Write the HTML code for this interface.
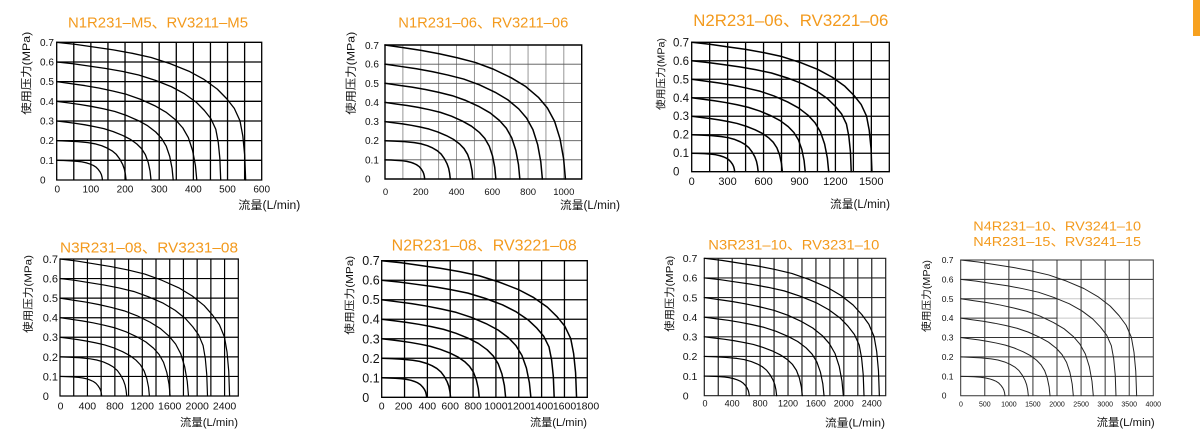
<!DOCTYPE html>
<html>
<head>
<meta charset="utf-8">
<style>
html,body{margin:0;padding:0;background:#fff;}
svg{display:block;}
path,polyline{vector-effect:non-scaling-stroke;fill:none;}
text{font-family:"Liberation Sans","Noto Sans CJK SC",sans-serif;fill:#111;}
.t{fill:#F39A1D;}
.c{stroke:#000;stroke-linejoin:round;stroke-linecap:round;}
</style>
</head>
<body>
<svg width="1200" height="437" viewBox="0 0 1200 437" xmlns="http://www.w3.org/2000/svg">
<rect x="0" y="0" width="1200" height="437" fill="#fff"/>
<rect x="1193" y="0" width="7" height="36" fill="#F7A11F"/>

<!-- ============ CHART 1 ============ -->
<text class="t" x="68" y="27.3" font-size="15" textLength="180" lengthAdjust="spacingAndGlyphs">N1R231–M5、RV3211–M5</text>
<text transform="translate(27,73.3) rotate(-90)" text-anchor="middle" dominant-baseline="central" font-size="11" textLength="83" lengthAdjust="spacingAndGlyphs">使用压力(MPa)</text>
<g font-size="10">
<text x="40" y="45.8">0.7</text><text x="40" y="65.5">0.6</text><text x="40" y="85.1">0.5</text><text x="40" y="104.8">0.4</text><text x="40" y="124.5">0.3</text><text x="40" y="144.2">0.2</text><text x="40" y="163.8">0.1</text><text x="40" y="183.5">0</text>
</g>
<g font-size="10" text-anchor="middle">
<text x="57.3" y="192.5">0</text><text x="90.9" y="192.5">100</text><text x="125" y="192.5">200</text><text x="159.2" y="192.5">300</text><text x="193.4" y="192.5">400</text><text x="227.5" y="192.5">500</text><text x="261.7" y="192.5">600</text>
</g>
<text x="238.3" y="209" font-size="11.5" textLength="62" lengthAdjust="spacingAndGlyphs">流量(L/min)</text>
<g transform="translate(56.7,180) scale(0.34167,19.671)">
<path stroke="#000" stroke-width="1.3" stroke-linecap="square" d="M0 0V-7M50 0V-7M100 0V-7M150 0V-7M200 0V-7M250 0V-7M300 0V-7M350 0V-7M400 0V-7M450 0V-7M500 0V-7M550 0V-7M600 0V-7M0 0H600M0 -1H600M0 -2H600M0 -3H600M0 -4H600M0 -5H600M0 -6H600M0 -7H600"/>
<g class="c" stroke-width="1.3">
<polyline transform="translate(0,-1) scale(134,1)" points="0,0 .15,.01 .3,.025 .45,.05 .55,.08 .65,.13 .73,.19 .8,.26 .86,.35 .91,.47 .95,.6 .975,.72 .99,.85 1,1"/>
<polyline transform="translate(0,-2) scale(203,2)" points="0,0 .15,.01 .3,.025 .45,.05 .55,.08 .65,.13 .73,.19 .8,.26 .86,.35 .91,.47 .95,.6 .975,.72 .99,.85 1,1"/>
<polyline transform="translate(0,-3) scale(276,3)" points="0,0 .1,.02 .2,.04 .3,.065 .4,.095 .5,.13 .6,.18 .7,.245 .78,.31 .85,.39 .9,.47 .94,.57 .97,.7 .99,.85 1,1"/>
<polyline transform="translate(0,-4) scale(341,4)" points="0,0 .1,.02 .2,.04 .3,.065 .4,.095 .5,.13 .6,.18 .7,.245 .78,.31 .85,.39 .9,.47 .94,.57 .97,.7 .99,.85 1,1"/>
<polyline transform="translate(0,-5) scale(410,5)" points="0,0 .1,.02 .2,.04 .3,.065 .4,.095 .5,.13 .6,.18 .7,.245 .78,.31 .85,.39 .9,.47 .94,.57 .97,.7 .99,.85 1,1"/>
<polyline transform="translate(0,-6) scale(480,6)" points="0,0 .1,.015 .2,.035 .3,.055 .4,.08 .5,.11 .6,.155 .7,.21 .78,.27 .85,.34 .9,.41 .94,.48 .97,.57 .985,.68 .995,.82 1,1"/>
<polyline transform="translate(0,-7) scale(553,7)" points="0,0 .1,.015 .2,.035 .3,.055 .4,.08 .5,.11 .6,.155 .7,.21 .78,.27 .85,.34 .9,.41 .94,.48 .97,.57 .985,.68 .995,.82 1,1"/>
</g>
</g>

<!-- ============ CHART 2 ============ -->
<text class="t" x="398.3" y="27.3" font-size="15" textLength="170" lengthAdjust="spacingAndGlyphs">N1R231–06、RV3211–06</text>
<text transform="translate(351.7,73.3) rotate(-90)" text-anchor="middle" dominant-baseline="central" font-size="11" textLength="83" lengthAdjust="spacingAndGlyphs">使用压力(MPa)</text>
<g font-size="10">
<text x="365" y="49">0.7</text><text x="365" y="67.6">0.6</text><text x="365" y="86.8">0.5</text><text x="365" y="105.9">0.4</text><text x="365" y="125.1">0.3</text><text x="365" y="144.2">0.2</text><text x="365" y="163.4">0.1</text><text x="365" y="182.5">0</text>
</g>
<g font-size="9.5" text-anchor="middle">
<text x="385.5" y="195">0</text><text x="420.8" y="195">200</text><text x="456.5" y="195">400</text><text x="492.3" y="195">600</text><text x="528.1" y="195">800</text><text x="563.8" y="195">1000</text>
</g>
<text x="560" y="209" font-size="11.5" textLength="60" lengthAdjust="spacingAndGlyphs">流量(L/min)</text>
<g transform="translate(385,179) scale(0.17882,19.143)">
<path stroke="#8c8c8c" stroke-width="0.9" d="M100 0V-7M200 0V-7M300 0V-7M400 0V-7M500 0V-7M600 0V-7M700 0V-7M800 0V-7M900 0V-7M1000 0V-7"/>
<path stroke="#555" stroke-width="0.9" d="M0 -1H1100M0 -2H1100M0 -3H1100M0 -4H1100M0 -5H1100M0 -6H1100"/>
<path stroke="#000" stroke-width="1.4" stroke-linecap="square" d="M0 0H1100V-7H0Z"/>
<g class="c" stroke-width="1.5">
<polyline transform="translate(0,-1) scale(222,1)" points="0,0 .15,.01 .3,.025 .45,.05 .55,.08 .65,.13 .73,.19 .8,.26 .86,.35 .91,.47 .95,.6 .975,.72 .99,.85 1,1"/>
<polyline transform="translate(0,-2) scale(365,2)" points="0,0 .15,.01 .3,.025 .45,.05 .55,.08 .65,.13 .73,.19 .8,.26 .86,.35 .91,.47 .95,.6 .975,.72 .99,.85 1,1"/>
<polyline transform="translate(0,-3) scale(491,3)" points="0,0 .1,.02 .2,.04 .3,.065 .4,.095 .5,.13 .6,.18 .7,.245 .78,.31 .85,.39 .9,.47 .94,.57 .97,.7 .99,.85 1,1"/>
<polyline transform="translate(0,-4) scale(620,4)" points="0,0 .1,.02 .2,.04 .3,.065 .4,.095 .5,.13 .6,.18 .7,.245 .78,.31 .85,.39 .9,.47 .94,.57 .97,.7 .99,.85 1,1"/>
<polyline transform="translate(0,-5) scale(754,5)" points="0,0 .1,.02 .2,.04 .3,.065 .4,.095 .5,.13 .6,.18 .7,.245 .78,.31 .85,.39 .9,.47 .94,.57 .97,.7 .99,.85 1,1"/>
<polyline transform="translate(0,-6) scale(880,6)" points="0,0 .1,.02 .2,.04 .3,.065 .4,.095 .5,.13 .6,.18 .7,.245 .78,.31 .85,.39 .9,.47 .94,.57 .97,.7 .99,.85 1,1"/>
<polyline transform="translate(0,-7) scale(1009,7)" points="0,0 .1,.02 .2,.04 .3,.065 .4,.095 .5,.13 .6,.18 .7,.245 .78,.31 .85,.39 .9,.47 .94,.57 .97,.7 .99,.85 1,1"/>
</g>
</g>

<!-- ============ CHART 3 ============ -->
<text class="t" x="693.3" y="26" font-size="16.5" textLength="195" lengthAdjust="spacingAndGlyphs">N2R231–06、RV3221–06</text>
<text transform="translate(662,74) rotate(-90)" text-anchor="middle" dominant-baseline="central" font-size="10" textLength="72" lengthAdjust="spacingAndGlyphs">使用压力(MPa)</text>
<g font-size="11.5">
<text x="673" y="46.3">0.7</text><text x="673" y="64.8">0.6</text><text x="673" y="83.3">0.5</text><text x="673" y="101.8">0.4</text><text x="673" y="120.2">0.3</text><text x="673" y="138.7">0.2</text><text x="673" y="157.2">0.1</text><text x="673" y="175.4">0</text>
</g>
<g font-size="11" text-anchor="middle">
<text x="691.7" y="185">0</text><text x="727.6" y="185">300</text><text x="763.6" y="185">600</text><text x="799.5" y="185">900</text><text x="835.4" y="185">1200</text><text x="871.3" y="185">1500</text>
</g>
<text x="830" y="208" font-size="11.5" textLength="60" lengthAdjust="spacingAndGlyphs">流量(L/min)</text>
<g transform="translate(691.7,171.7) scale(0.11976,18.486)">
<path stroke="#000" stroke-width="1.3" stroke-linecap="square" d="M0 0V-7M150 0V-7M300 0V-7M450 0V-7M600 0V-7M750 0V-7M900 0V-7M1050 0V-7M1200 0V-7M1350 0V-7M1500 0V-7M1650 0V-7M0 0H1650M0 -1H1650M0 -2H1650M0 -3H1650M0 -4H1650M0 -5H1650M0 -6H1650M0 -7H1650"/>
<g class="c" stroke-width="1.5">
<polyline transform="translate(0,-1) scale(359,1)" points="0,0 .15,.01 .3,.025 .45,.05 .55,.08 .65,.13 .73,.19 .8,.26 .86,.35 .91,.47 .95,.6 .975,.72 .99,.85 1,1"/>
<polyline transform="translate(0,-2) scale(555,2)" points="0,0 .15,.01 .3,.025 .45,.05 .55,.08 .65,.13 .73,.19 .8,.26 .86,.35 .91,.47 .95,.6 .975,.72 .99,.85 1,1"/>
<polyline transform="translate(0,-3) scale(757,3)" points="0,0 .1,.02 .2,.04 .3,.065 .4,.095 .5,.13 .6,.18 .7,.245 .78,.31 .85,.39 .9,.47 .94,.57 .97,.7 .99,.85 1,1"/>
<polyline transform="translate(0,-4) scale(948,4)" points="0,0 .1,.02 .2,.04 .3,.065 .4,.095 .5,.13 .6,.18 .7,.245 .78,.31 .85,.39 .9,.47 .94,.57 .97,.7 .99,.85 1,1"/>
<polyline transform="translate(0,-5) scale(1144,5)" points="0,0 .1,.02 .2,.04 .3,.065 .4,.095 .5,.13 .6,.18 .7,.245 .78,.31 .85,.39 .9,.47 .94,.57 .97,.7 .99,.85 1,1"/>
<polyline transform="translate(0,-6) scale(1332,6)" points="0,0 .1,.015 .2,.035 .3,.055 .4,.08 .5,.11 .6,.155 .7,.21 .78,.27 .85,.34 .9,.41 .94,.48 .97,.57 .985,.68 .995,.82 1,1"/>
<polyline transform="translate(0,-7) scale(1505,7)" points="0,0 .1,.015 .2,.035 .3,.055 .4,.08 .5,.11 .6,.155 .7,.21 .78,.27 .85,.34 .9,.41 .94,.48 .97,.57 .985,.68 .995,.82 1,1"/>
</g>
</g>

<!-- ============ CHART 4 ============ -->
<text class="t" x="60" y="252.3" font-size="15" textLength="178" lengthAdjust="spacingAndGlyphs">N3R231–08、RV3231–08</text>
<text transform="translate(28.3,294) rotate(-90)" text-anchor="middle" dominant-baseline="central" font-size="10.5" textLength="78" lengthAdjust="spacingAndGlyphs">使用压力(MPa)</text>
<g font-size="11">
<text x="42.7" y="262.9">0.7</text><text x="42.7" y="282.5">0.6</text><text x="42.7" y="302">0.5</text><text x="42.7" y="321.6">0.4</text><text x="42.7" y="341.2">0.3</text><text x="42.7" y="360.8">0.2</text><text x="42.7" y="380.3">0.1</text><text x="42.7" y="399.9">0</text>
</g>
<g font-size="10.5" text-anchor="middle">
<text x="60.5" y="409.3">0</text><text x="87.4" y="409.3">400</text><text x="114.9" y="409.3">800</text><text x="142.3" y="409.3">1200</text><text x="169.7" y="409.3">1600</text><text x="197.2" y="409.3">2000</text><text x="224.6" y="409.3">2400</text>
</g>
<text x="180" y="426" font-size="11" textLength="58" lengthAdjust="spacingAndGlyphs">流量(L/min)</text>
<g transform="translate(60,396) scale(0.068577,19.571)">
<path stroke="#000" stroke-width="1.2" stroke-linecap="square" d="M0 0V-7M200 0V-7M400 0V-7M600 0V-7M800 0V-7M1000 0V-7M1200 0V-7M1400 0V-7M1600 0V-7M1800 0V-7M2000 0V-7M2200 0V-7M2400 0V-7M2600 0V-7M0 0H2600M0 -1H2600M0 -2H2600M0 -3H2600M0 -4H2600M0 -5H2600M0 -6H2600M0 -7H2600"/>
<g class="c" stroke-width="1.2">
<polyline transform="translate(0,-1) scale(608,1)" points="0,0 .15,.01 .3,.025 .45,.05 .55,.08 .65,.13 .73,.19 .8,.26 .86,.35 .91,.47 .95,.6 .975,.72 .99,.85 1,1"/>
<polyline transform="translate(0,-2) scale(973,2)" points="0,0 .15,.01 .3,.025 .45,.05 .55,.08 .65,.13 .73,.19 .8,.26 .86,.35 .91,.47 .95,.6 .975,.72 .99,.85 1,1"/>
<polyline transform="translate(0,-3) scale(1304,3)" points="0,0 .1,.02 .2,.04 .3,.065 .4,.095 .5,.13 .6,.18 .7,.245 .78,.31 .85,.39 .9,.47 .94,.57 .97,.7 .99,.85 1,1"/>
<polyline transform="translate(0,-4) scale(1606,4)" points="0,0 .1,.02 .2,.04 .3,.065 .4,.095 .5,.13 .6,.18 .7,.245 .78,.31 .85,.39 .9,.47 .94,.57 .97,.7 .99,.85 1,1"/>
<polyline transform="translate(0,-5) scale(1874,5)" points="0,0 .1,.02 .2,.04 .3,.065 .4,.095 .5,.13 .6,.18 .7,.245 .78,.31 .85,.39 .9,.47 .94,.57 .97,.7 .99,.85 1,1"/>
<polyline transform="translate(0,-6) scale(2151,6)" points="0,0 .1,.015 .2,.035 .3,.055 .4,.08 .5,.11 .6,.155 .7,.21 .78,.27 .85,.34 .9,.41 .94,.48 .97,.57 .985,.68 .995,.82 1,1"/>
<polyline transform="translate(0,-7) scale(2473,7)" points="0,0 .1,.015 .2,.035 .3,.055 .4,.08 .5,.11 .6,.155 .7,.21 .78,.27 .85,.34 .9,.41 .94,.48 .97,.57 .985,.68 .995,.82 1,1"/>
</g>
</g>

<!-- ============ CHART 5 ============ -->
<text class="t" x="391.7" y="250.7" font-size="15.5" textLength="185" lengthAdjust="spacingAndGlyphs">N2R231–08、RV3221–08</text>
<text transform="translate(350,295.3) rotate(-90)" text-anchor="middle" dominant-baseline="central" font-size="10.5" textLength="79" lengthAdjust="spacingAndGlyphs">使用压力(MPa)</text>
<g font-size="12.5">
<text x="362.3" y="265.2">0.7</text><text x="362.3" y="284.7">0.6</text><text x="362.3" y="304.2">0.5</text><text x="362.3" y="323.7">0.4</text><text x="362.3" y="343.3">0.3</text><text x="362.3" y="362.8">0.2</text><text x="362.3" y="382.3">0.1</text><text x="362.3" y="401.8">0</text>
</g>
<g font-size="10.5" text-anchor="middle">
<text x="381.7" y="409.3">0</text><text x="403.5" y="409.3">200</text><text x="427.4" y="409.3">400</text><text x="450.2" y="409.3">600</text><text x="473.1" y="409.3">800</text><text x="495.9" y="409.3">1000</text><text x="518.8" y="409.3">1200</text><text x="541.6" y="409.3">1400</text><text x="564.5" y="409.3">1600</text><text x="587.5" y="409.3">1800</text>
</g>
<text x="530" y="426" font-size="11" textLength="57" lengthAdjust="spacingAndGlyphs">流量(L/min)</text>
<g transform="translate(381.7,397.3) scale(0.11422,19.514)">
<path stroke="#000" stroke-width="1.3" stroke-linecap="square" d="M0 0V-7M200 0V-7M400 0V-7M600 0V-7M800 0V-7M1000 0V-7M1200 0V-7M1400 0V-7M1600 0V-7M1800 0V-7M0 0H1800M0 -1H1800M0 -2H1800M0 -3H1800M0 -4H1800M0 -5H1800M0 -6H1800M0 -7H1800"/>
<g class="c" stroke-width="1.5">
<polyline transform="translate(0,-1) scale(394,1)" points="0,0 .15,.01 .3,.025 .45,.05 .55,.08 .65,.13 .73,.19 .8,.26 .86,.35 .91,.47 .95,.6 .975,.72 .99,.85 1,1"/>
<polyline transform="translate(0,-2) scale(603,2)" points="0,0 .15,.01 .3,.025 .45,.05 .55,.08 .65,.13 .73,.19 .8,.26 .86,.35 .91,.47 .95,.6 .975,.72 .99,.85 1,1"/>
<polyline transform="translate(0,-3) scale(854,3)" points="0,0 .1,.02 .2,.04 .3,.065 .4,.095 .5,.13 .6,.18 .7,.245 .78,.31 .85,.39 .9,.47 .94,.57 .97,.7 .99,.85 1,1"/>
<polyline transform="translate(0,-4) scale(1085,4)" points="0,0 .1,.02 .2,.04 .3,.065 .4,.095 .5,.13 .6,.18 .7,.245 .78,.31 .85,.39 .9,.47 .94,.57 .97,.7 .99,.85 1,1"/>
<polyline transform="translate(0,-5) scale(1306,5)" points="0,0 .1,.02 .2,.04 .3,.065 .4,.095 .5,.13 .6,.18 .7,.245 .78,.31 .85,.39 .9,.47 .94,.57 .97,.7 .99,.85 1,1"/>
<polyline transform="translate(0,-6) scale(1510,6)" points="0,0 .1,.015 .2,.035 .3,.055 .4,.08 .5,.11 .6,.155 .7,.21 .78,.27 .85,.34 .9,.41 .94,.48 .97,.57 .985,.68 .995,.82 1,1"/>
<polyline transform="translate(0,-7) scale(1706,7)" points="0,0 .1,.015 .2,.035 .3,.055 .4,.08 .5,.11 .6,.155 .7,.21 .78,.27 .85,.34 .9,.41 .94,.48 .97,.57 .985,.68 .995,.82 1,1"/>
</g>
</g>

<!-- ============ CHART 6 ============ -->
<text class="t" x="708.3" y="249.3" font-size="14" textLength="171" lengthAdjust="spacingAndGlyphs">N3R231–10、RV3231–10</text>
<text transform="translate(670,293.7) rotate(-90)" text-anchor="middle" dominant-baseline="central" font-size="10.5" textLength="76" lengthAdjust="spacingAndGlyphs">使用压力(MPa)</text>
<g font-size="10.5">
<text x="682.7" y="262">0.7</text><text x="682.7" y="281.6">0.6</text><text x="682.7" y="301.3">0.5</text><text x="682.7" y="320.9">0.4</text><text x="682.7" y="340.5">0.3</text><text x="682.7" y="360.1">0.2</text><text x="682.7" y="379.8">0.1</text><text x="682.7" y="399.4">0</text>
</g>
<g font-size="9" text-anchor="middle" style="fill:#333">
<text x="705" y="406.7">0</text><text x="732.2" y="406.7">400</text><text x="760.1" y="406.7">800</text><text x="788" y="406.7">1200</text><text x="815.9" y="406.7">1600</text><text x="843.8" y="406.7">2000</text><text x="871.8" y="406.7">2400</text>
</g>
<text x="825" y="426.5" font-size="11" textLength="60" lengthAdjust="spacingAndGlyphs">流量(L/min)</text>
<g transform="translate(704.3,395.7) scale(0.069769,19.629)">
<path stroke="#222" stroke-width="1.2" stroke-linecap="square" d="M0 0V-7M200 0V-7M400 0V-7M600 0V-7M800 0V-7M1000 0V-7M1200 0V-7M1400 0V-7M1600 0V-7M1800 0V-7M2000 0V-7M2200 0V-7M2400 0V-7M2600 0V-7M0 0H2600M0 -1H2600M0 -2H2600M0 -3H2600M0 -4H2600M0 -5H2600M0 -6H2600M0 -7H2600"/>
<g class="c" stroke-width="1.2">
<polyline transform="translate(0,-1) scale(645,1)" points="0,0 .15,.01 .3,.025 .45,.05 .55,.08 .65,.13 .73,.19 .8,.26 .86,.35 .91,.47 .95,.6 .975,.72 .99,.85 1,1"/>
<polyline transform="translate(0,-2) scale(1037,2)" points="0,0 .15,.01 .3,.025 .45,.05 .55,.08 .65,.13 .73,.19 .8,.26 .86,.35 .91,.47 .95,.6 .975,.72 .99,.85 1,1"/>
<polyline transform="translate(0,-3) scale(1405,3)" points="0,0 .1,.02 .2,.04 .3,.065 .4,.095 .5,.13 .6,.18 .7,.245 .78,.31 .85,.39 .9,.47 .94,.57 .97,.7 .99,.85 1,1"/>
<polyline transform="translate(0,-4) scale(1716,4)" points="0,0 .1,.02 .2,.04 .3,.065 .4,.095 .5,.13 .6,.18 .7,.245 .78,.31 .85,.39 .9,.47 .94,.57 .97,.7 .99,.85 1,1"/>
<polyline transform="translate(0,-5) scale(1993,5)" points="0,0 .1,.02 .2,.04 .3,.065 .4,.095 .5,.13 .6,.18 .7,.245 .78,.31 .85,.39 .9,.47 .94,.57 .97,.7 .99,.85 1,1"/>
<polyline transform="translate(0,-6) scale(2289,6)" points="0,0 .1,.015 .2,.035 .3,.055 .4,.08 .5,.11 .6,.155 .7,.21 .78,.27 .85,.34 .9,.41 .94,.48 .97,.57 .985,.68 .995,.82 1,1"/>
<polyline transform="translate(0,-7) scale(2509,7)" points="0,0 .1,.015 .2,.035 .3,.055 .4,.08 .5,.11 .6,.155 .7,.21 .78,.27 .85,.34 .9,.41 .94,.48 .97,.57 .985,.68 .995,.82 1,1"/>
</g>
</g>

<!-- ============ CHART 7 ============ -->
<text class="t" x="973.3" y="230.7" font-size="13" textLength="167.7" lengthAdjust="spacingAndGlyphs">N4R231–10、RV3241–10</text>
<text class="t" x="973.3" y="246" font-size="13" textLength="167.7" lengthAdjust="spacingAndGlyphs">N4R231–15、RV3241–15</text>
<text transform="translate(927.3,296) rotate(-90)" text-anchor="middle" dominant-baseline="central" font-size="10" textLength="72" lengthAdjust="spacingAndGlyphs">使用压力(MPa)</text>
<g font-size="8.5">
<text x="941.7" y="263">0.7</text><text x="941.7" y="282.4">0.6</text><text x="941.7" y="301.8">0.5</text><text x="941.7" y="321.2">0.4</text><text x="941.7" y="340.5">0.3</text><text x="941.7" y="359.9">0.2</text><text x="941.7" y="379.3">0.1</text><text x="941.7" y="398.7">0</text>
</g>
<g font-size="7" text-anchor="middle">
<text x="961" y="406.7">0</text><text x="984.8" y="406.7">500</text><text x="1008.9" y="406.7">1000</text><text x="1032.9" y="406.7">1500</text><text x="1057" y="406.7">2000</text><text x="1081.1" y="406.7">2500</text><text x="1105.2" y="406.7">3000</text><text x="1129.2" y="406.7">3500</text><text x="1153.3" y="406.7">4000</text>
</g>
<text x="1096.7" y="426" font-size="11" textLength="58" lengthAdjust="spacingAndGlyphs">流量(L/min)</text>
<g transform="translate(960.7,395.7) scale(0.04815,19.386)">
<path stroke="#c8c8c8" stroke-width="1" d="M2000 -4H4000M2000 -5H4000"/>
<path stroke="#333" stroke-width="1" stroke-linecap="square" d="M0 0V-7M500 0V-7M1000 0V-7M1500 0V-7M2000 0V-7M2500 0V-7M3000 0V-7M3500 0V-7M4000 0V-7M0 0H4000M0 -1H4000M0 -2H4000M0 -3H4000M0 -4H2000M0 -5H2000M0 -6H4000M0 -7H4000"/>
<g class="c" stroke-width="1" style="stroke:#222">
<polyline transform="translate(0,-1) scale(920,1)" points="0,0 .15,.01 .3,.025 .45,.05 .55,.08 .65,.13 .73,.19 .8,.26 .86,.35 .91,.47 .95,.6 .975,.72 .99,.85 1,1"/>
<polyline transform="translate(0,-2) scale(1405,2)" points="0,0 .15,.01 .3,.025 .45,.05 .55,.08 .65,.13 .73,.19 .8,.26 .86,.35 .91,.47 .95,.6 .975,.72 .99,.85 1,1"/>
<polyline transform="translate(0,-3) scale(1855,3)" points="0,0 .1,.02 .2,.04 .3,.065 .4,.095 .5,.13 .6,.18 .7,.245 .78,.31 .85,.39 .9,.47 .94,.57 .97,.7 .99,.85 1,1"/>
<polyline transform="translate(0,-4) scale(2339,4)" points="0,0 .1,.02 .2,.04 .3,.065 .4,.095 .5,.13 .6,.18 .7,.245 .78,.31 .85,.39 .9,.47 .94,.57 .97,.7 .99,.85 1,1"/>
<polyline transform="translate(0,-5) scale(2754,5)" points="0,0 .1,.02 .2,.04 .3,.065 .4,.095 .5,.13 .6,.18 .7,.245 .78,.31 .85,.39 .9,.47 .94,.57 .97,.7 .99,.85 1,1"/>
<polyline transform="translate(0,-6) scale(3225,6)" points="0,0 .1,.015 .2,.035 .3,.055 .4,.08 .5,.11 .6,.155 .7,.21 .78,.27 .85,.34 .9,.41 .94,.48 .97,.57 .985,.68 .995,.82 1,1"/>
<polyline transform="translate(0,-7) scale(3654,7)" points="0,0 .1,.015 .2,.035 .3,.055 .4,.08 .5,.11 .6,.155 .7,.21 .78,.27 .85,.34 .9,.41 .94,.48 .97,.57 .985,.68 .995,.82 1,1"/>
</g>
</g>
</svg>
</body>
</html>
